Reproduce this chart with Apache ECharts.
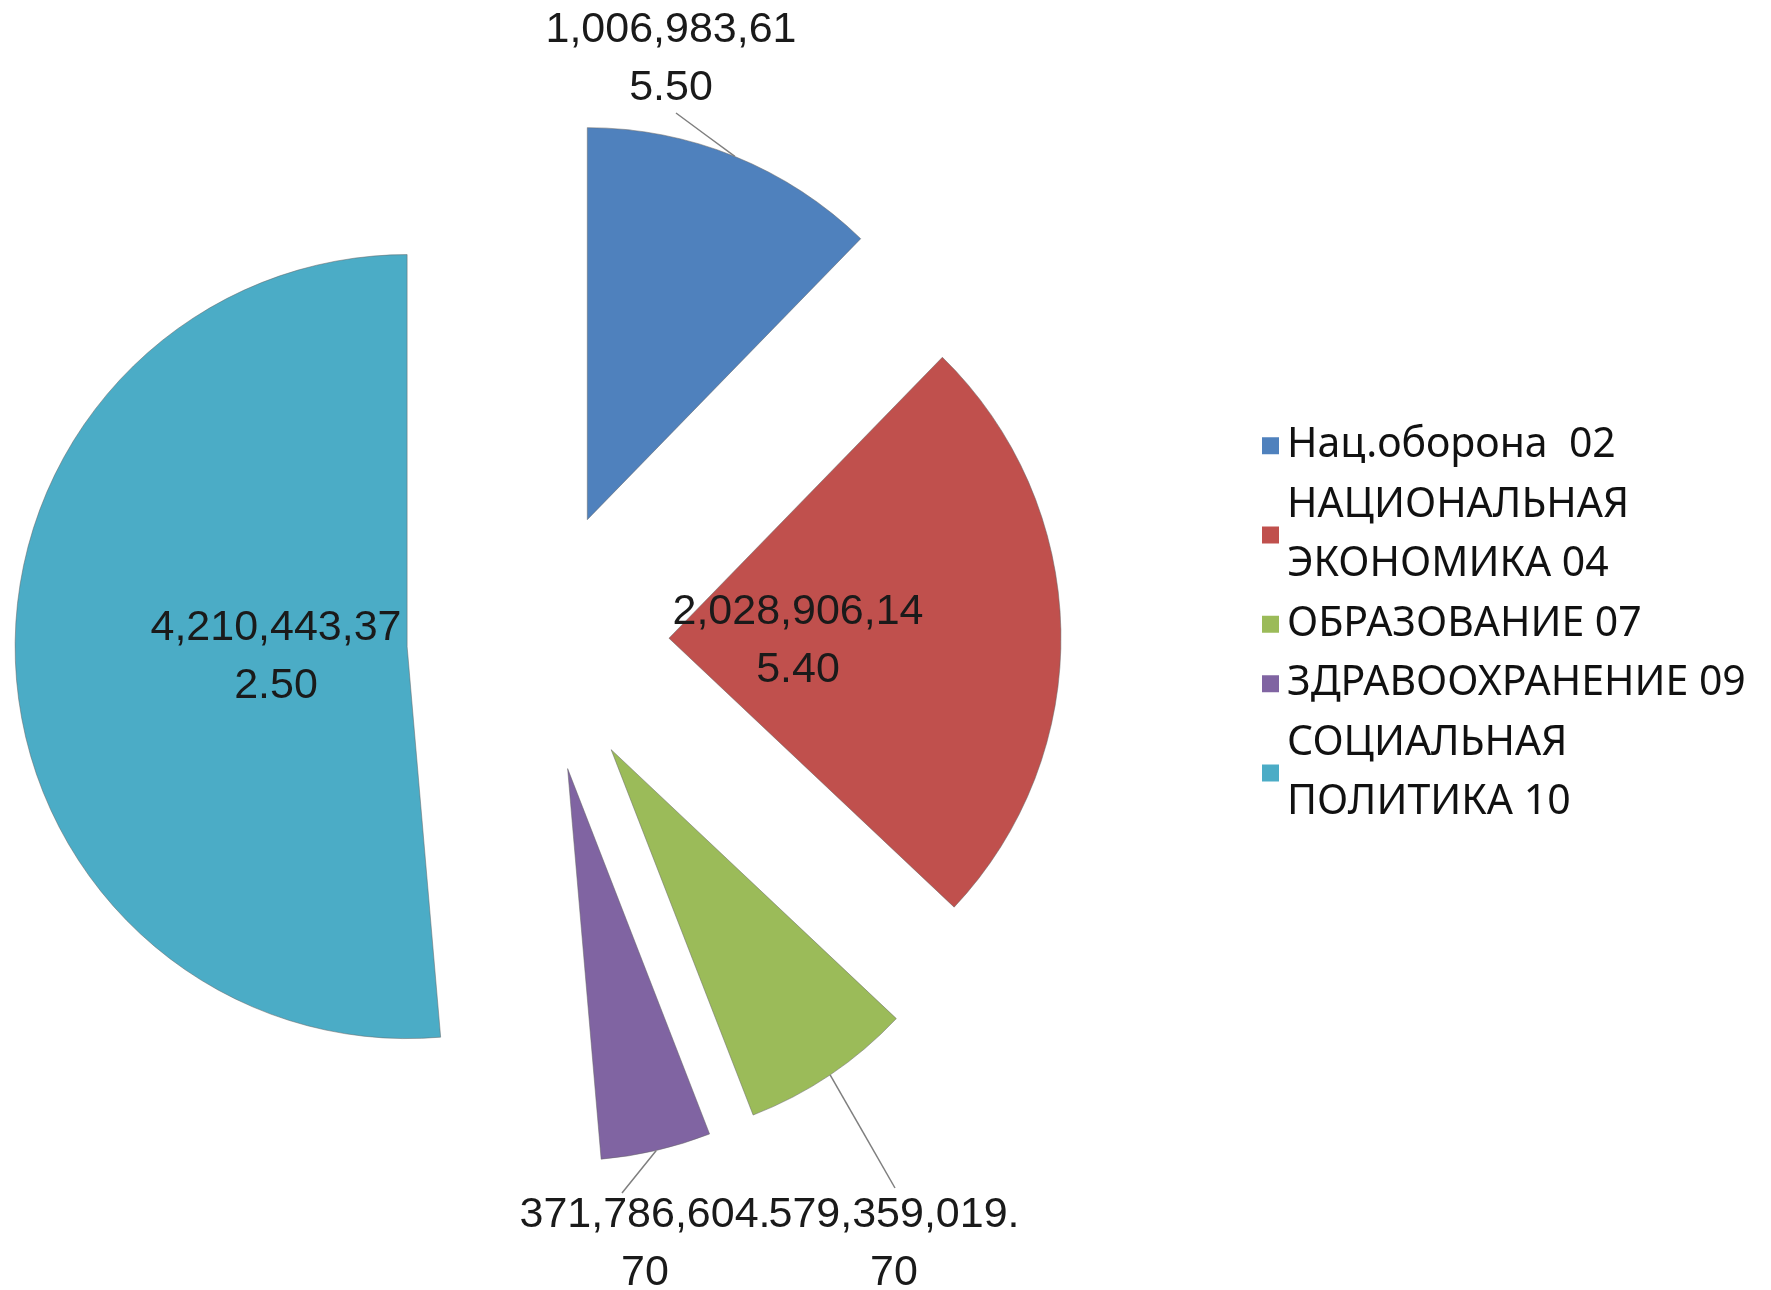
<!DOCTYPE html>
<html><head><meta charset="utf-8">
<script src="https://cdn.jsdelivr.net/npm/echarts@6/dist/echarts.min.js"></script>
<style>html,body{margin:0;padding:0;background:#fff}#c{width:1771px;height:1290px}</style>
</head><body><div id="c"></div>
<script>
// ---- data ----
const categories = ['Нац.оборона  02', 'НАЦИОНАЛЬНАЯ\nЭКОНОМИКА 04', 'ОБРАЗОВАНИЕ 07', 'ЗДРАВООХРАНЕНИЕ 09', 'СОЦИАЛЬНАЯ\nПОЛИТИКА 10'];
const values = [1006983615.50, 2028906145.40, 579359019.70, 371786604.70, 4210443372.50];
const colors = ['#4F81BD', '#C0504D', '#9BBB59', '#8064A2', '#4BACC6'];

// ---- layout / style ----
const CX = 538, CY = 641, R = 392, OFFSET = 131;
const labelPos = [[671, 59], [798, 641], [894, 1244], [645, 1244], [276, 657]];
const labelLineEnd = [[676, 113], null, [895, 1188], [622, 1193], null];

function fmt(v) { return v.toLocaleString('en-US', { minimumFractionDigits: 2, maximumFractionDigits: 2 }); }
function wrap(s) { return s.length > 12 ? s.slice(0, 12) + '\n' + s.slice(12) : s; }

const total = values.reduce((a, b) => a + b, 0);
const anchors = [];
let acc = 0;
values.forEach(v => {
  const a0 = acc / total * 2 * Math.PI;
  acc += v;
  const a1 = acc / total * 2 * Math.PI;
  const m = (a0 + a1) / 2;
  anchors.push([CX + (OFFSET + R) * Math.sin(m), CY - (OFFSET + R) * Math.cos(m)]);
});

const chart = echarts.init(document.getElementById('c'), null, { renderer: 'canvas' });
const borderColor = 'rgba(100,100,100,0.5)';
chart.setOption({
  animation: false,
  backgroundColor: '#ffffff',
  legend: {
    orient: 'vertical', left: 1257, top: 411,
    itemWidth: 17, itemHeight: 17, itemGap: 0, icon: 'rect',
    selectedMode: false,
    textStyle: { fontFamily: 'Noto Sans', fontSize: 41, lineHeight: 59.5, color: '#111', padding: [0, 0, 0, 3] },
    data: categories.map((n, i) => ({ name: n, itemStyle: { color: colors[i], borderWidth: 0 } }))
  },
  series: [{
    type: 'pie', name: 'slices',
    center: [CX, CY], radius: R, startAngle: 90, clockwise: true,
    selectedMode: 'multiple', selectedOffset: OFFSET,
    avoidLabelOverlap: false,
    itemStyle: { borderColor: borderColor, borderWidth: 1 },
    select: { itemStyle: { borderColor: borderColor, borderWidth: 1 } },
    emphasis: { scale: false },
    label: { show: false },
    labelLine: { show: false },
    data: categories.map((n, i) => ({
      name: n, value: values[i], selected: true,
      itemStyle: { color: colors[i] }
    }))
  }, {
    type: 'pie', name: 'labels', silent: true, z: 3,
    center: [CX, CY], radius: R, startAngle: 90, clockwise: true,
    selectedMode: false, avoidLabelOverlap: false,
    itemStyle: { color: 'rgba(0,0,0,0)', borderWidth: 0 },
    emphasis: { disabled: true },
    label: {
      show: true, position: 'outside',
      formatter: p => wrap(fmt(p.value)),
      fontFamily: 'Liberation Sans', fontSize: 43, lineHeight: 58, color: '#1a1a1a', align: 'center'
    },
    labelLine: { show: true, lineStyle: { color: '#7f7f7f', width: 1.5 } },
    labelLayout: function (p) {
      const i = p.dataIndex;
      const o = { x: labelPos[i][0], y: labelPos[i][1], align: 'center', verticalAlign: 'middle' };
      if (labelLineEnd[i]) {
        const a = anchors[i], e = labelLineEnd[i];
        o.labelLinePoints = [a, [(a[0] + e[0]) / 2, (a[1] + e[1]) / 2], e];
      }
      return o;
    },
    data: categories.map((n, i) => ({
      name: n, value: values[i],
      itemStyle: { color: 'rgba(0,0,0,0)' },
      labelLine: { show: labelLineEnd[i] != null }
    }))
  }]
});
</script>
</body></html>
